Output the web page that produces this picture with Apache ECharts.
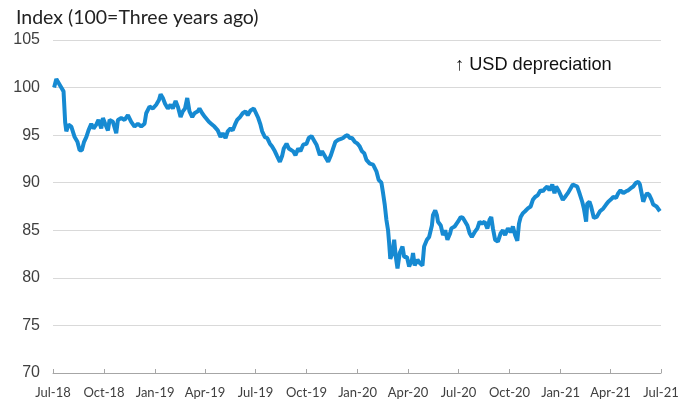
<!DOCTYPE html>
<html>
<head>
<meta charset="utf-8">
<script src="https://cdn.jsdelivr.net/npm/echarts@6/dist/echarts.min.js"></script>
<style>
  html, body { margin: 0; padding: 0; background: #fff; }
  #chart { width: 696px; height: 405px; }
</style>
</head>
<body>
<div id="chart"></div>
<script>
// quarterly tick dates and their labels
const tickDates = ["2018-07-01", "2018-10-01", "2019-01-01", "2019-04-01", "2019-07-01",
  "2019-10-01", "2020-01-01", "2020-04-01", "2020-07-01", "2020-10-01",
  "2021-01-01", "2021-04-01", "2021-07-01"];
const tickLabels = ["Jul-18", "Oct-18", "Jan-19", "Apr-19", "Jul-19", "Oct-19", "Jan-20",
  "Apr-20", "Jul-20", "Oct-20", "Jan-21", "Apr-21", "Jul-21"];

// dates of the readings
const dates = [
  "2018-07-03", "2018-07-07", "2018-07-10", "2018-07-13", "2018-07-17", "2018-07-20", "2018-07-23",
  "2018-07-25", "2018-07-29", "2018-08-03", "2018-08-06", "2018-08-09", "2018-08-14", "2018-08-18",
  "2018-08-22", "2018-08-26", "2018-08-30", "2018-09-03", "2018-09-08", "2018-09-12", "2018-09-17",
  "2018-09-21", "2018-09-26", "2018-09-29", "2018-10-03", "2018-10-08", "2018-10-11", "2018-10-17",
  "2018-10-23", "2018-10-26", "2018-11-01", "2018-11-07", "2018-11-13", "2018-11-19", "2018-11-25",
  "2018-12-01", "2018-12-07", "2018-12-13", "2018-12-16", "2018-12-22", "2018-12-28",
  "2019-01-03", "2019-01-08", "2019-01-11", "2019-01-15", "2019-01-19", "2019-01-24", "2019-01-29",
  "2019-02-02", "2019-02-07", "2019-02-11", "2019-02-16", "2019-02-20", "2019-02-24", "2019-02-28",
  "2019-03-04", "2019-03-09", "2019-03-13", "2019-03-19", "2019-03-22", "2019-03-27", "2019-04-01",
  "2019-04-08", "2019-04-12", "2019-04-18", "2019-04-24", "2019-04-29", "2019-05-03", "2019-05-08",
  "2019-05-12", "2019-05-17", "2019-05-21", "2019-05-25", "2019-05-29", "2019-06-03", "2019-06-08",
  "2019-06-13", "2019-06-17", "2019-06-22", "2019-06-28", "2019-07-02", "2019-07-06", "2019-07-10",
  "2019-07-13", "2019-07-18", "2019-07-22", "2019-07-27", "2019-07-31", "2019-08-05", "2019-08-09",
  "2019-08-14", "2019-08-18", "2019-08-21", "2019-08-26", "2019-08-30", "2019-09-02", "2019-09-07",
  "2019-09-11", "2019-09-16", "2019-09-20", "2019-09-25", "2019-10-01", "2019-10-05", "2019-10-10",
  "2019-10-14", "2019-10-19", "2019-10-25", "2019-10-29", "2019-11-03", "2019-11-09", "2019-11-14",
  "2019-11-18", "2019-11-22", "2019-11-27", "2019-12-02", "2019-12-06", "2019-12-10", "2019-12-14",
  "2019-12-18", "2019-12-22", "2019-12-27",
  "2020-01-01", "2020-01-05", "2020-01-09", "2020-01-13", "2020-01-17", "2020-01-23", "2020-01-29",
  "2020-02-04", "2020-02-08", "2020-02-13", "2020-02-16", "2020-02-19", "2020-02-22", "2020-02-25",
  "2020-02-27", "2020-02-29", "2020-03-04", "2020-03-07", "2020-03-10", "2020-03-13", "2020-03-17",
  "2020-03-22", "2020-03-25", "2020-03-30", "2020-04-03", "2020-04-08", "2020-04-10", "2020-04-13",
  "2020-04-18", "2020-04-23", "2020-04-27", "2020-04-30", "2020-05-05", "2020-05-09", "2020-05-14",
  "2020-05-16", "2020-05-20", "2020-05-23", "2020-05-25", "2020-05-30", "2020-06-03", "2020-06-07",
  "2020-06-11", "2020-06-16", "2020-06-18", "2020-06-24", "2020-06-30", "2020-07-05", "2020-07-09",
  "2020-07-13", "2020-07-17", "2020-07-21", "2020-07-25", "2020-07-30", "2020-08-04", "2020-08-08",
  "2020-08-12", "2020-08-17", "2020-08-22", "2020-08-26", "2020-08-29", "2020-09-01", "2020-09-05",
  "2020-09-10", "2020-09-15", "2020-09-19", "2020-09-23", "2020-09-28", "2020-10-03", "2020-10-07",
  "2020-10-11", "2020-10-15", "2020-10-18", "2020-10-21", "2020-10-25", "2020-10-29", "2020-11-03",
  "2020-11-08", "2020-11-12", "2020-11-16", "2020-11-21", "2020-11-26", "2020-11-30", "2020-12-04",
  "2020-12-08", "2020-12-12", "2020-12-17", "2020-12-21", "2020-12-24", "2020-12-29",
  "2021-01-01", "2021-01-05", "2021-01-09", "2021-01-14", "2021-01-19", "2021-01-23", "2021-01-26",
  "2021-01-31", "2021-02-04", "2021-02-09", "2021-02-12", "2021-02-16", "2021-02-18", "2021-02-22",
  "2021-02-25", "2021-03-02", "2021-03-07", "2021-03-13", "2021-03-19", "2021-03-24", "2021-03-28",
  "2021-04-01", "2021-04-06", "2021-04-11", "2021-04-15", "2021-04-19", "2021-04-24", "2021-04-29",
  "2021-05-03", "2021-05-07", "2021-05-12", "2021-05-17", "2021-05-21", "2021-05-24", "2021-05-27",
  "2021-05-30", "2021-06-02", "2021-06-06", "2021-06-10", "2021-06-14", "2021-06-17", "2021-06-20",
  "2021-06-23", "2021-06-26", "2021-06-29"
];

// index values (100 = three years ago)
const indexValues = [
  100.0, 100.9, 101.0, 100.3, 99.9, 99.6, 96.3,
  95.4, 96.1, 95.9, 96.1, 94.8, 94.3, 93.4,
  93.4, 94.3, 94.8, 95.5, 96.2, 95.7, 96.1,
  96.6, 95.7, 96.8, 96.2, 95.5, 96.6, 96.4,
  95.2, 96.6, 96.8, 96.6, 97.1, 96.4, 95.9,
  96.2, 95.9, 96.2, 97.3, 98.0, 97.8,
  98.2, 98.7, 99.3, 98.9, 98.3, 97.8, 98.2,
  97.8, 98.6, 98.0, 96.9, 97.5, 97.8, 98.9,
  97.5, 96.9, 97.3, 97.5, 97.8, 97.3, 96.9,
  96.4, 96.2, 95.9, 95.5, 94.8, 95.2, 94.7,
  95.4, 95.7, 95.5, 96.1, 96.6, 96.9, 97.3,
  97.5, 97.1, 97.6, 97.8, 97.3, 96.8, 96.1,
  95.4, 94.8, 94.7, 94.1, 93.8, 93.3, 92.8,
  92.2, 92.8, 93.6, 94.1, 93.6, 93.8, 93.3,
  92.9, 93.6, 93.3, 94.0, 94.1, 94.7, 94.9,
  94.5, 94.0, 92.9, 93.3, 92.8, 92.2, 92.9,
  93.6, 94.3, 94.5, 94.6, 94.7, 94.9, 95.0,
  94.7, 94.7, 94.3,
  94.1, 93.8, 93.3, 93.1, 92.4, 92.0, 91.9,
  91.2, 90.3, 90.0, 88.9, 87.7, 86.1, 85.0,
  83.6, 82.0, 82.6, 84.0, 82.2, 81.0, 82.6,
  83.3, 82.2, 82.2, 81.2, 81.9, 82.6, 81.3,
  81.9, 81.5, 81.3, 83.3, 84.0, 84.3, 85.5,
  86.6, 87.1, 86.6, 85.9, 85.5, 84.5, 85.0,
  84.0, 84.7, 85.2, 85.4, 85.9, 86.4, 86.3,
  85.9, 85.5, 84.7, 84.3, 84.8, 85.2, 85.9,
  85.7, 85.9, 85.2, 86.1, 86.4, 85.2, 84.0,
  83.8, 84.7, 85.0, 84.5, 85.2, 84.8, 85.4,
  84.5, 83.9, 85.7, 86.4, 86.8, 87.0, 87.3,
  87.5, 88.2, 88.5, 88.7, 89.2, 89.1, 89.4,
  89.6, 89.2, 89.8, 88.9, 89.6, 89.1,
  89.2, 88.2, 88.5, 88.9, 89.4, 89.8, 90.0,
  89.6, 88.9, 88.0, 87.3, 85.9, 87.8, 88.0,
  87.5, 86.3, 86.4, 87.0, 87.3, 87.7, 88.0,
  88.2, 88.5, 88.4, 88.9, 89.2, 88.9, 89.1,
  89.2, 89.4, 89.6, 90.0, 90.1, 89.8, 88.9,
  88.0, 88.5, 88.9, 88.7, 88.2, 87.7, 87.8,
  87.5, 87.7, 87.0
];

const yTicks = [70, 75, 80, 85, 90, 95, 100, 105];

const toTime = d => Date.parse(d + "T00:00:00Z");
const tickTimes = tickDates.map(toTime);

const chart = echarts.init(document.getElementById("chart"));

chart.setOption({
  animation: false,
  backgroundColor: "#ffffff",
  title: {
    text: "Index (100=Three years ago)",
    left: 11,
    top: 3,
    textStyle: {
      fontFamily: "Lato",
      fontSize: 19.5,
      fontWeight: "normal",
      color: "#222"
    }
  },
  graphic: [
    {
      type: "text",
      left: 455,
      top: 56,
      style: {
        text: "\u2191 USD depreciation",
        fontFamily: "Liberation Sans",
        fontSize: 18.2,
        fill: "#111"
      }
    }
  ],
  grid: {
    left: 53,
    right: 35,
    top: 40,
    bottom: 32,
    containLabel: false
  },
  // dates are put on a value axis so the quarterly ticks can be set exactly
  xAxis: {
    type: "value",
    min: tickTimes[0],
    max: tickTimes[tickTimes.length - 1],
    axisLine: {
      lineStyle: { color: "#a6a6a6", width: 1 }
    },
    axisTick: {
      inside: true,
      length: 4,
      customValues: tickTimes,
      lineStyle: { color: "#a6a6a6" }
    },
    axisLabel: {
      customValues: tickTimes,
      margin: 13,
      fontFamily: "Lato",
      fontSize: 13,
      color: "#404040",
      formatter: value => {
        const i = tickTimes.indexOf(value);
        return i >= 0 ? tickLabels[i] : "";
      }
    },
    splitLine: { show: false }
  },
  yAxis: {
    type: "value",
    min: yTicks[0],
    max: yTicks[yTicks.length - 1],
    interval: 5,
    axisLine: { show: false },
    axisTick: { show: false },
    axisLabel: {
      margin: 13,
      fontFamily: "Liberation Sans",
      fontSize: 16,
      color: "#404040"
    },
    splitLine: {
      lineStyle: { color: "#d9d9d9", width: 1 }
    }
  },
  series: [
    {
      name: "Index",
      type: "line",
      data: dates.map((d, i) => [toTime(d), indexValues[i]]),
      showSymbol: false,
      lineStyle: { color: "#168ad2", width: 4 },
      itemStyle: { color: "#168ad2" }
    }
  ]
});
</script>
</body>
</html>
